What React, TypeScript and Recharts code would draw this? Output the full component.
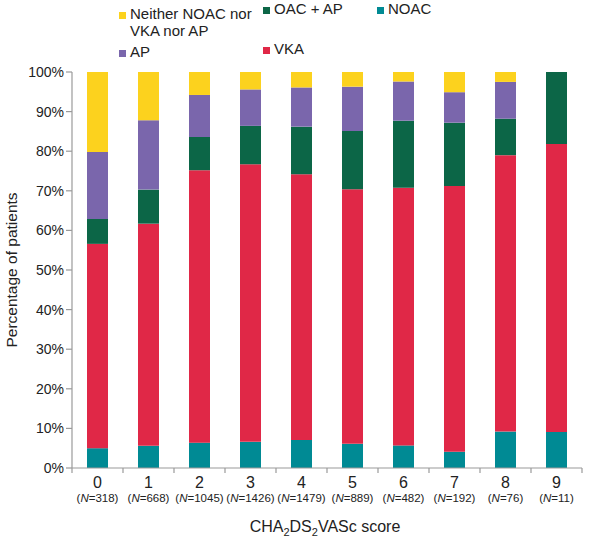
import { BarChart, Bar, XAxis, YAxis, Legend, Label } from 'recharts';

const categories = ['0', '1', '2', '3', '4', '5', '6', '7', '8', '9'];
const patientCounts = [318, 668, 1045, 1426, 1479, 889, 482, 192, 76, 11];
const noac = [5.0, 5.6, 6.4, 6.6, 7.1, 6.1, 5.7, 4.1, 9.2, 9.1];
const vka = [51.6, 56.1, 68.8, 70.1, 67.1, 64.3, 65.1, 67.1, 69.8, 72.7];
const oacAp = [6.3, 8.6, 8.4, 9.7, 12.0, 14.7, 16.9, 16.0, 9.2, 18.2];
const ap = [16.9, 17.5, 10.6, 9.2, 9.9, 11.2, 9.9, 7.7, 9.3, 0];
const neither = [20.2, 12.2, 5.8, 4.4, 3.9, 3.7, 2.4, 5.1, 2.5, 0];
const yTicks = [0, 10, 20, 30, 40, 50, 60, 70, 80, 90, 100];

const COLORS = {
    noac: '#008a94',
    vka: '#e02847',
    oacAp: '#0c6647',
    ap: '#7a66ac',
    neither: '#fcd21e',
};

const FONT = '"Liberation Sans", Arial, sans-serif';
const AXIS = '#9a9a9a';

const data = categories.map((c, i) => ({
    score: c,
    n: patientCounts[i],
    noac: noac[i],
    vka: vka[i],
    oacAp: oacAp[i],
    ap: ap[i],
    neither: neither[i],
}));

const legendItems = [
    { label: ['Neither NOAC nor', 'VKA nor AP'], color: COLORS.neither, left: 119, top: 5 },
    { label: ['AP'], color: COLORS.ap, left: 119, top: 43 },
    { label: ['OAC + AP'], color: COLORS.oacAp, left: 263, top: 0 },
    { label: ['VKA'], color: COLORS.vka, left: 263, top: 40 },
    { label: ['NOAC'], color: COLORS.noac, left: 377, top: 0 },
];

const LegendBox = () => (
    <div style={{ position: 'relative', width: 602, height: 64, fontFamily: FONT, fontSize: 15, color: '#222' }}>
        {legendItems.map((it) => (
            <div key={it.label[0]} style={{ position: 'absolute', left: it.left, top: it.top, lineHeight: '17px' }}>
                <span style={{ position: 'absolute', left: 0, top: 7, width: 7, height: 7, background: it.color }} />
                <div style={{ marginLeft: 11 }}>
                    {it.label.map((l) => <div key={l} style={{ whiteSpace: 'nowrap' }}>{l}</div>)}
                </div>
            </div>
        ))}
    </div>
);

const ScoreTick = (props: any) => {
    const { x, y, payload, index } = props;
    const half = payload.offset ?? 25.5;
    const n = patientCounts[index];
    return (
        <g>
            <line x1={x - half} x2={x - half} y1={y} y2={y + 5} stroke={AXIS} strokeWidth={1.2} />
            {index === categories.length - 1 && (
                <line x1={x + half} x2={x + half} y1={y} y2={y + 5} stroke={AXIS} strokeWidth={1.2} />
            )}
            <text x={x} y={y + 20} textAnchor="middle" fontFamily={FONT} fontSize={16} fill="#222">
                {payload.value}
            </text>
            <text x={x} y={y + 34} textAnchor="middle" fontFamily={FONT} fontSize={11.5} fill="#222">
                (<tspan fontStyle="italic">N</tspan>={n})
            </text>
        </g>
    );
};

const XTitle = (props: any) => {
    const { viewBox } = props;
    const cx = viewBox.x + viewBox.width / 2;
    return (
        <text x={cx - 2} y={viewBox.y + 64} textAnchor="middle" fontFamily={FONT} fontSize={16} fill="#222">
            CHA<tspan fontSize={11} dy={4}>2</tspan>
            <tspan dy={-4}>DS</tspan>
            <tspan fontSize={11} dy={4}>2</tspan>
            <tspan dy={-4}>VASc score</tspan>
        </text>
    );
};

const YTitle = (props: any) => {
    const { viewBox } = props;
    const cy = viewBox.y + viewBox.height / 2;
    return (
        <text x={17} y={cy} transform={`rotate(-90 17 ${cy})`} textAnchor="middle" fontFamily={FONT} fontSize={15.5} fill="#222">
            Percentage of patients
        </text>
    );
};

export default function App() {
    return (
        <div style={{ position: 'absolute', left: 0, top: 0, background: '#fff' }}>
            <BarChart width={602} height={542} data={data} margin={{ top: 8, right: 20, bottom: 0, left: 10 }} barSize={21}>
                <Legend verticalAlign="top" align="left" wrapperStyle={{ top: 0, left: 0 }} content={() => <LegendBox />} />
                <XAxis
                    dataKey="score"
                    height={74}
                    tickLine={false}
                    tickSize={0}
                    tickMargin={0}
                    stroke={AXIS}
                    strokeWidth={1.2}
                    tick={<ScoreTick />}
                    interval={0}
                >
                    <Label content={<XTitle />} />
                </XAxis>
                <YAxis
                    width={62}
                    domain={[0, 100]}
                    ticks={yTicks}
                    tickFormatter={(v: number) => `${v}%`}
                    stroke={AXIS}
                    strokeWidth={1.2}
                    tickSize={6}
                    tick={{ fill: '#222', fontSize: 14, fontFamily: FONT }}
                    allowDataOverflow
                >
                    <Label content={<YTitle />} />
                </YAxis>
                <Bar dataKey="noac" stackId="a" fill={COLORS.noac} isAnimationActive={false} />
                <Bar dataKey="vka" stackId="a" fill={COLORS.vka} isAnimationActive={false} />
                <Bar dataKey="oacAp" stackId="a" fill={COLORS.oacAp} isAnimationActive={false} />
                <Bar dataKey="ap" stackId="a" fill={COLORS.ap} isAnimationActive={false} />
                <Bar dataKey="neither" stackId="a" fill={COLORS.neither} isAnimationActive={false} />
            </BarChart>
        </div>
    );
}
